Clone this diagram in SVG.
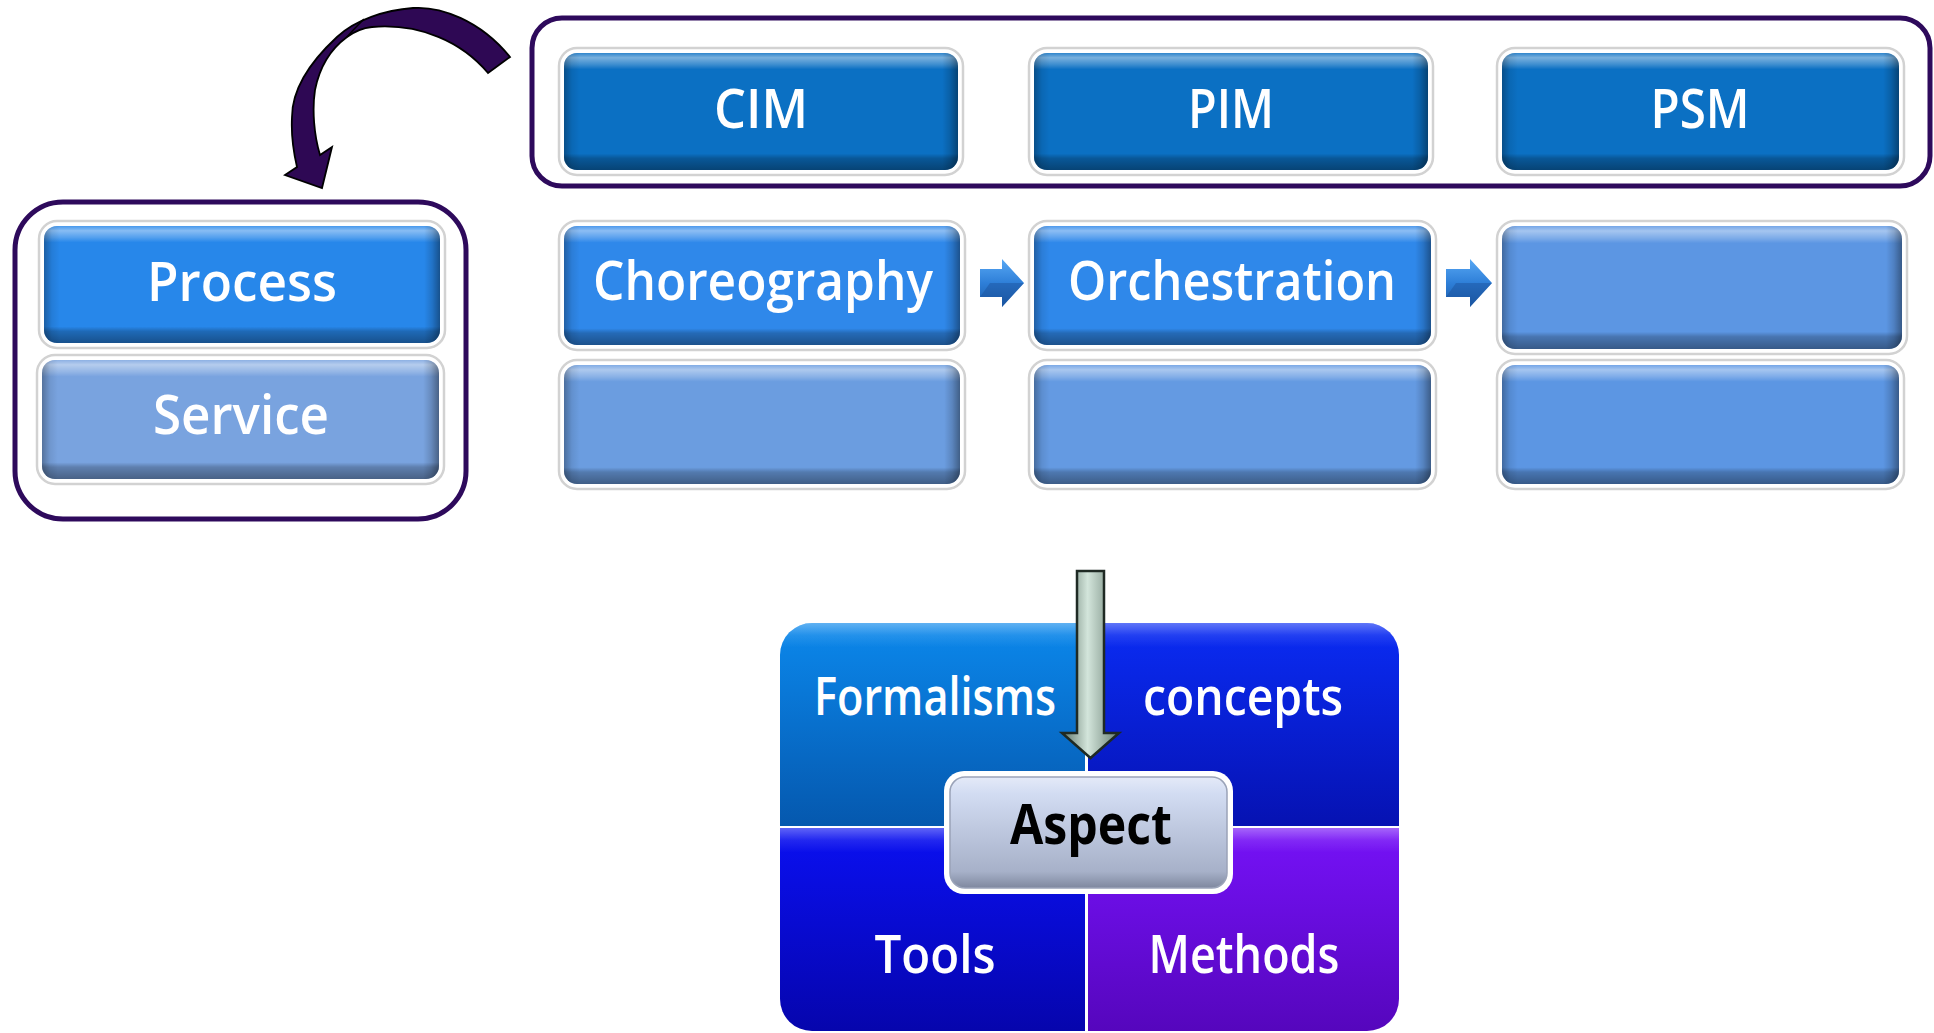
<svg xmlns="http://www.w3.org/2000/svg" width="1934" height="1033" viewBox="0 0 1934 1033">
<style>
.frame{fill:#ffffff;stroke:#d2d2d2;stroke-width:2.5}
.lbl{font-family:"Open Sans","Noto Sans","DejaVu Sans",sans-serif;fill:#ffffff;font-size:55px;font-weight:600;text-anchor:middle}
.qlbl{font-family:"Open Sans","Noto Sans","DejaVu Sans",sans-serif;fill:#ffffff;font-size:52px;font-weight:600;text-anchor:middle}
.group{fill:none;stroke:#2E0A5C;stroke-width:5}
.bv{fill:url(#gV)}
.bh{fill:url(#gH)}
.c-top{fill:#0B70C3}
.c-proc{fill:#2787EA}
.c-chor{fill:#2F88EA}
.c-serv{fill:#79A3DF}
.c-r3a{fill:#6B9DE0}
.c-r3b{fill:#649AE2}
.c-r3c{fill:#5C96E3}
</style>
<defs>
<linearGradient id="gV" x1="0" y1="0" x2="0" y2="1">
<stop offset="0" stop-color="#ffffff" stop-opacity="0.15"/>
<stop offset="0.04" stop-color="#ffffff" stop-opacity="0.45"/>
<stop offset="0.1" stop-color="#ffffff" stop-opacity="0.2"/>
<stop offset="0.14" stop-color="#ffffff" stop-opacity="0"/>
<stop offset="0.86" stop-color="#000000" stop-opacity="0"/>
<stop offset="0.9" stop-color="#000000" stop-opacity="0.22"/>
<stop offset="1" stop-color="#000000" stop-opacity="0.4"/>
</linearGradient>
<linearGradient id="gH" x1="0" y1="0" x2="1" y2="0">
<stop offset="0" stop-color="#000000" stop-opacity="0.3"/>
<stop offset="0.02" stop-color="#000000" stop-opacity="0.08"/>
<stop offset="0.04" stop-color="#000000" stop-opacity="0"/>
<stop offset="0.96" stop-color="#000000" stop-opacity="0"/>
<stop offset="0.98" stop-color="#000000" stop-opacity="0.15"/>
<stop offset="1" stop-color="#000000" stop-opacity="0.4"/>
</linearGradient>
<linearGradient id="qTL" x1="0" y1="0" x2="0" y2="1"><stop offset="0" stop-color="#0B88EC"/><stop offset="1" stop-color="#0558AE"/></linearGradient>
<linearGradient id="qTR" x1="0" y1="0" x2="0" y2="1"><stop offset="0" stop-color="#0A2CF4"/><stop offset="1" stop-color="#0612B2"/></linearGradient>
<linearGradient id="qBL" x1="0" y1="0" x2="0" y2="1"><stop offset="0" stop-color="#0A10F2"/><stop offset="1" stop-color="#0605AC"/></linearGradient>
<linearGradient id="qBR" x1="0" y1="0" x2="0" y2="1"><stop offset="0" stop-color="#7612F8"/><stop offset="1" stop-color="#5506BC"/></linearGradient>
<linearGradient id="qHi" x1="0" y1="0" x2="0" y2="1">
<stop offset="0" stop-color="#ffffff" stop-opacity="0.35"/>
<stop offset="0.06" stop-color="#ffffff" stop-opacity="0.1"/>
<stop offset="0.12" stop-color="#ffffff" stop-opacity="0"/>
</linearGradient>
<linearGradient id="aspG" x1="0" y1="0" x2="0" y2="1">
<stop offset="0" stop-color="#E4EAF8"/>
<stop offset="0.15" stop-color="#D2DCF2"/>
<stop offset="0.85" stop-color="#A7B1C9"/>
<stop offset="1" stop-color="#7F889F"/>
</linearGradient>
<linearGradient id="arrG" x1="0" y1="0" x2="1" y2="0">
<stop offset="0" stop-color="#5E7468"/>
<stop offset="0.45" stop-color="#D3E5DB"/>
<stop offset="1" stop-color="#687F73"/>
</linearGradient>
<linearGradient id="chevG" x1="0" y1="0" x2="0" y2="1">
<stop offset="0" stop-color="#58A8F4"/>
<stop offset="0.5" stop-color="#2E7FD8"/>
<stop offset="1" stop-color="#1A5AA8"/>
</linearGradient>
<clipPath id="quadClip"><rect x="780" y="623" width="619" height="408" rx="32"/></clipPath>
</defs>

<!-- group outlines -->
<rect id="mda-group" class="group" x="532" y="18" width="1398" height="168" rx="30"/>
<rect id="layer-group" class="group" x="15" y="202" width="451" height="317" rx="48"/>

<!-- left nodes -->
<g id="process">
<rect class="frame" x="39" y="221" width="406" height="127" rx="18"/>
<rect class="c-proc" x="44" y="226" width="396" height="117" rx="13"/>
<rect class="bv" x="44" y="226" width="396" height="117" rx="13"/>
<rect class="bh" x="44" y="226" width="396" height="117" rx="13"/>
<text class="lbl" x="242" y="301" textLength="190" lengthAdjust="spacingAndGlyphs">Process</text>
</g>
<g id="service">
<rect class="frame" x="37" y="355" width="407" height="129" rx="18"/>
<rect class="c-serv" x="42" y="360" width="397" height="119" rx="13"/>
<rect class="bv" x="42" y="360" width="397" height="119" rx="13"/>
<rect class="bh" x="42" y="360" width="397" height="119" rx="13"/>
<text class="lbl" x="241" y="434" textLength="176" lengthAdjust="spacingAndGlyphs">Service</text>
</g>

<!-- top row -->
<g id="cim">
<rect class="frame" x="559" y="48" width="404" height="127" rx="18"/>
<rect class="c-top" x="564" y="53" width="394" height="117" rx="13"/>
<rect class="bv" x="564" y="53" width="394" height="117" rx="13"/>
<rect class="bh" x="564" y="53" width="394" height="117" rx="13"/>
<text class="lbl" x="761" y="128" textLength="94" lengthAdjust="spacingAndGlyphs">CIM</text>
</g>
<g id="pim">
<rect class="frame" x="1029" y="48" width="404" height="127" rx="18"/>
<rect class="c-top" x="1034" y="53" width="394" height="117" rx="13"/>
<rect class="bv" x="1034" y="53" width="394" height="117" rx="13"/>
<rect class="bh" x="1034" y="53" width="394" height="117" rx="13"/>
<text class="lbl" x="1231" y="128" textLength="86" lengthAdjust="spacingAndGlyphs">PIM</text>
</g>
<g id="psm">
<rect class="frame" x="1497" y="48" width="407" height="127" rx="18"/>
<rect class="c-top" x="1502" y="53" width="397" height="117" rx="13"/>
<rect class="bv" x="1502" y="53" width="397" height="117" rx="13"/>
<rect class="bh" x="1502" y="53" width="397" height="117" rx="13"/>
<text class="lbl" x="1700" y="128" textLength="99" lengthAdjust="spacingAndGlyphs">PSM</text>
</g>

<!-- second row -->
<g id="choreography">
<rect class="frame" x="559" y="221" width="406" height="129" rx="18"/>
<rect class="c-chor" x="564" y="226" width="396" height="119" rx="13"/>
<rect class="bv" x="564" y="226" width="396" height="119" rx="13"/>
<rect class="bh" x="564" y="226" width="396" height="119" rx="13"/>
<text class="lbl" x="763" y="300" textLength="340" lengthAdjust="spacingAndGlyphs">Choreography</text>
</g>
<g id="orchestration">
<rect class="frame" x="1029" y="221" width="407" height="129" rx="18"/>
<rect class="c-chor" x="1034" y="226" width="397" height="119" rx="13"/>
<rect class="bv" x="1034" y="226" width="397" height="119" rx="13"/>
<rect class="bh" x="1034" y="226" width="397" height="119" rx="13"/>
<text class="lbl" x="1232" y="300" textLength="328" lengthAdjust="spacingAndGlyphs">Orchestration</text>
</g>
<g id="row2-psm">
<rect class="frame" x="1497" y="221" width="410" height="133" rx="18"/>
<rect class="c-r3c" x="1502" y="226" width="400" height="123" rx="13"/>
<rect class="bv" x="1502" y="226" width="400" height="123" rx="13"/>
<rect class="bh" x="1502" y="226" width="400" height="123" rx="13"/>
</g>

<!-- third row -->
<g id="row3-cim">
<rect class="frame" x="559" y="360" width="406" height="129" rx="18"/>
<rect class="c-r3a" x="564" y="365" width="396" height="119" rx="13"/>
<rect class="bv" x="564" y="365" width="396" height="119" rx="13"/>
<rect class="bh" x="564" y="365" width="396" height="119" rx="13"/>
</g>
<g id="row3-pim">
<rect class="frame" x="1029" y="360" width="407" height="129" rx="18"/>
<rect class="c-r3b" x="1034" y="365" width="397" height="119" rx="13"/>
<rect class="bv" x="1034" y="365" width="397" height="119" rx="13"/>
<rect class="bh" x="1034" y="365" width="397" height="119" rx="13"/>
</g>
<g id="row3-psm">
<rect class="frame" x="1497" y="360" width="407" height="129" rx="18"/>
<rect class="c-r3c" x="1502" y="365" width="397" height="119" rx="13"/>
<rect class="bv" x="1502" y="365" width="397" height="119" rx="13"/>
<rect class="bh" x="1502" y="365" width="397" height="119" rx="13"/>
</g>

<!-- quadrant -->
<g id="quadrant">
<g clip-path="url(#quadClip)">
<rect x="780" y="623" width="305" height="203" fill="url(#qTL)"/>
<rect x="1087" y="623" width="312" height="203" fill="url(#qTR)"/>
<rect x="780" y="828" width="305" height="205" fill="url(#qBL)"/>
<rect x="1087" y="828" width="312" height="205" fill="url(#qBR)"/>
<rect x="780" y="623" width="305" height="203" fill="url(#qHi)"/>
<rect x="1087" y="623" width="312" height="203" fill="url(#qHi)"/>
<rect x="780" y="828" width="305" height="205" fill="url(#qHi)"/>
<rect x="1087" y="828" width="312" height="205" fill="url(#qHi)"/>
<rect x="1085" y="623" width="3" height="410" fill="#ffffff"/>
<rect x="780" y="826" width="619" height="2" fill="#ffffff" opacity="0.7"/>
</g>
<text class="qlbl" x="935" y="715" textLength="242" lengthAdjust="spacingAndGlyphs">Formalisms</text>
<text class="qlbl" x="1243" y="715" textLength="200" lengthAdjust="spacingAndGlyphs">concepts</text>
<text class="qlbl" x="935" y="973" textLength="121" lengthAdjust="spacingAndGlyphs">Tools</text>
<text class="qlbl" x="1244" y="973" textLength="191" lengthAdjust="spacingAndGlyphs">Methods</text>
</g>

<g id="aspect">
<rect x="944" y="771" width="289" height="123" rx="20" fill="#ffffff"/>
<rect x="950" y="777" width="277" height="111" rx="15" fill="url(#aspG)" stroke="#9AA3B8" stroke-width="1.5"/>
<text x="1091" y="844" font-family="'Open Sans','Noto Sans','DejaVu Sans',sans-serif" font-weight="bold" font-size="55" fill="#000000" text-anchor="middle" textLength="162" lengthAdjust="spacingAndGlyphs">Aspect</text>
</g>

<!-- connectors -->
<g id="connectors">
<path id="curved-arrow" d="M510,57 C480,20 440,6 413,8 C385,10 355,20 337,37 C310,62 292,90 292,117 C291,135 293,150 297,167 L285,175 L322,188 L332,147 L320,155 C314,135 312,110 315,90 C320,65 332,48 347,37 C355,31 362,28 372,27 C420,23 462,42 488,73 Z" fill="#2E0854" stroke="#000000" stroke-width="1.8" stroke-linejoin="miter"/>
<path d="M347,37 C352,31 357,26 364,19" fill="none" stroke="#000000" stroke-width="1.5"/>
<polygon id="arrow-chor-orch" points="980,269 1002,269 1002,259 1024,283 1002,307 1002,297 980,297" fill="url(#chevG)"/>
<polygon points="1002,283 1024,283 1002,307 1002,297 980,297 990,283" fill="#1B4F98" opacity="0.45"/>
<polygon id="arrow-orch-psm" points="1446,269 1470,269 1470,259 1492,283 1470,307 1470,297 1446,297" fill="url(#chevG)"/>
<polygon points="1470,283 1492,283 1470,307 1470,297 1446,297 1456,283" fill="#1B4F98" opacity="0.45"/>
<path id="down-arrow" d="M1077,571 H1104 V733 H1119 L1090.5,758 L1062,733 H1077 Z" fill="url(#arrG)" stroke="#1F2A24" stroke-width="2.5" stroke-linejoin="miter"/>
</g>
</svg>
